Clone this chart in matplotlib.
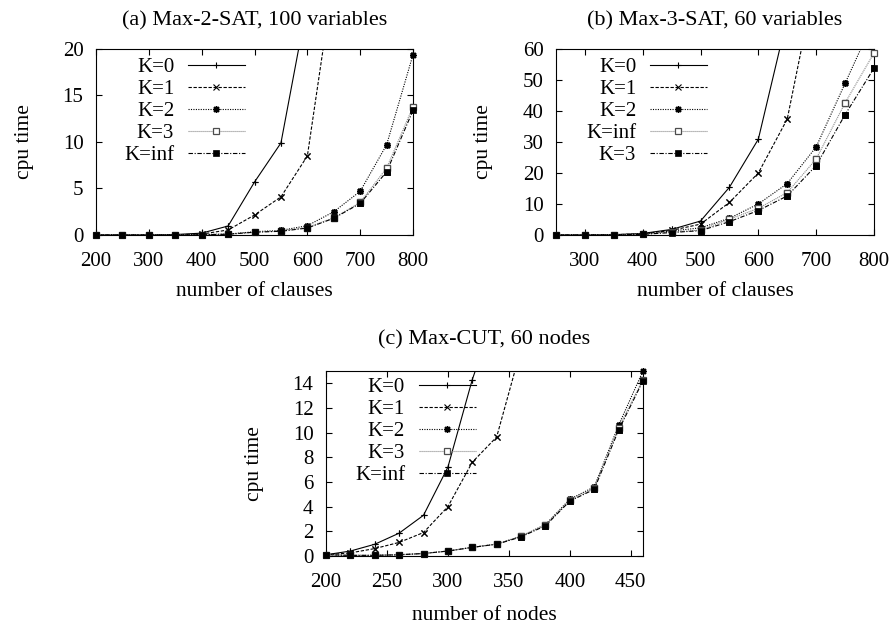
import numpy as np
import matplotlib
matplotlib.use("Agg")
import matplotlib.pyplot as plt

plt.rcParams['font.family'] = ['Liberation Serif', 'DejaVu Serif']

# (a) Max-2-SAT, 100 variables
clauses_a = [200, 250, 300, 350, 400, 450, 500, 550, 600, 650, 700, 750, 800]
a_k0 = [0.0, 0.0, 0.0, 0.05, 0.2, 0.97, 5.7, 9.9, 25.0]
a_k1 = [0.0, 0.0, 0.0, 0.03, 0.1, 0.54, 2.15, 4.1, 8.5, 27.8]
a_k2 = [0.0, 0.0, 0.0, 0.0, 0.05, 0.1, 0.35, 0.5, 1.0, 2.5, 4.7, 9.7, 19.4]
a_k3 = [0.0, 0.0, 0.0, 0.0, 0.03, 0.08, 0.3, 0.45, 0.8, 1.85, 3.5, 7.2, 13.8]
a_kinf = [0.0, 0.0, 0.0, 0.0, 0.03, 0.08, 0.3, 0.4, 0.75, 1.8, 3.4, 6.8, 13.4]

# (b) Max-3-SAT, 60 variables
clauses_b = [250, 300, 350, 400, 450, 500, 550, 600, 650, 700, 750, 800]
b_k0 = [0.0, 0.0, 0.1, 0.5, 1.8, 4.5, 15.4, 30.9, 70.2]
b_k1 = [0.0, 0.0, 0.1, 0.4, 1.5, 3.5, 10.5, 20.0, 37.4, 83.4]
b_k2 = [0.0, 0.0, 0.05, 0.3, 1.3, 2.3, 5.4, 10.0, 16.6, 28.4, 48.9, 69.4]
b_kinf = [0.0, 0.0, 0.05, 0.3, 0.9, 1.6, 5.1, 8.6, 13.7, 24.5, 42.6, 58.7]
b_k3 = [0.0, 0.0, 0.05, 0.2, 0.8, 1.4, 4.3, 7.9, 12.6, 22.4, 38.8, 53.8]

# (c) Max-CUT, 60 nodes
nodes_c = [200, 220, 240, 260, 280, 300, 320, 340, 360, 380, 400, 420, 440, 460]
c_k0 = [0.1, 0.4, 0.95, 1.85, 3.3, 7.2, 14.3, 20.0]
c_k1 = [0.1, 0.25, 0.6, 1.1, 1.9, 4.0, 7.6, 9.65, 16.8]
c_k2 = [0.1, 0.05, 0.05, 0.1, 0.2, 0.4, 0.7, 0.97, 1.6, 2.55, 4.6, 5.6, 10.6, 15.0]
c_k3 = [0.1, 0.05, 0.05, 0.1, 0.2, 0.4, 0.7, 0.97, 1.6, 2.5, 4.5, 5.5, 10.4, 14.3]
c_kinf = [0.1, 0.05, 0.05, 0.1, 0.2, 0.4, 0.7, 0.95, 1.55, 2.45, 4.45, 5.4, 10.2, 14.2]

# gnuplot-like monochrome styles
STYLES = {
    'k0': dict(color='black', ls='-', marker='+', ms=5, mew=0.8, mfc='black'),
    'k1': dict(color='black', ls=(0, (3, 1.5)), marker='x', ms=4, mew=0.8, mfc='black'),
    'k2': dict(color='black', ls=(0, (1, 1.2)), marker=(8, 2, 0), ms=5, mew=1.0, mfc='black'),
    'k3': dict(color='0.55', ls=(0, (1, 0.8)), marker='s', ms=4.5, mew=0.9, mfc='white', mec='0.3'),
    'kinf': dict(color='black', ls=(0, (4, 1.5, 1, 1.5)), marker='s', ms=4.5, mew=0.5, mfc='black'),
}


def draw_series(ax, x, y, style, label, ymax):
    x = np.array(x[:len(y)], dtype=float)
    y = np.array(y, dtype=float)
    st = dict(STYLES[style])
    ax.plot(x, y, lw=0.8, label=label, **st)
    # points are not clipped at the frame, like gnuplot does
    keep = y <= ymax
    st.pop('ls')
    ax.plot(x[keep], y[keep], ls='none', clip_on=False, zorder=3, **st)


def setup_axes(ax, title, xlabel, xlim, ylim, xticks, yticks, title_pad, xlab_y):
    ax.set_xlim(*xlim)
    ax.set_ylim(*ylim)
    ax.set_xticks(xticks)
    ax.set_yticks(yticks)
    ax.tick_params(direction='in', top=True, right=True, length=4, width=0.8,
                   labelsize=15)
    ax.tick_params(axis='x', pad=12)
    ax.tick_params(axis='y', pad=9)
    for sp in ax.spines.values():
        sp.set_linewidth(0.8)
    ax.set_title(title, fontsize=16, pad=title_pad)
    ax.set_xlabel(xlabel, fontsize=15.5)
    ax.set_ylabel('cpu time', fontsize=15.5)
    ax.xaxis.set_label_coords(0.5, xlab_y)
    ax.yaxis.set_label_coords(-0.197, 0.5)


def add_legend(ax, anchor):
    ax.legend(loc='upper right', bbox_to_anchor=anchor, frameon=False,
              markerfirst=False, numpoints=1, fontsize=15, handlelength=2.75,
              handletextpad=0.65, labelspacing=0.12, borderpad=0,
              borderaxespad=0)


fig = plt.figure(figsize=(8.95, 6.24), dpi=100)

ax_a = fig.add_axes([0.1073, 0.6234, 0.3542, 0.2981])
draw_series(ax_a, clauses_a, a_k0, 'k0', 'K=0', 20)
draw_series(ax_a, clauses_a, a_k1, 'k1', 'K=1', 20)
draw_series(ax_a, clauses_a, a_k2, 'k2', 'K=2', 20)
draw_series(ax_a, clauses_a, a_k3, 'k3', 'K=3', 20)
draw_series(ax_a, clauses_a, a_kinf, 'kinf', 'K=inf', 20)
setup_axes(ax_a, '(a) Max-2-SAT, 100 variables', 'number of clauses',
           (200, 800), (0, 20), range(200, 801, 100), range(0, 21, 5), 17, -0.255)
add_legend(ax_a, (0.470, 0.955))

ax_b = fig.add_axes([0.6212, 0.6234, 0.3553, 0.2981])
draw_series(ax_b, clauses_b, b_k0, 'k0', 'K=0', 60)
draw_series(ax_b, clauses_b, b_k1, 'k1', 'K=1', 60)
draw_series(ax_b, clauses_b, b_k2, 'k2', 'K=2', 60)
draw_series(ax_b, clauses_b, b_kinf, 'k3', 'K=inf', 60)
draw_series(ax_b, clauses_b, b_k3, 'kinf', 'K=3', 60)
setup_axes(ax_b, '(b) Max-3-SAT, 60 variables', 'number of clauses',
           (250, 800), (0, 60), range(300, 801, 100), range(0, 61, 10), 17, -0.255)
add_legend(ax_b, (0.475, 0.955))

ax_c = fig.add_axes([0.3642, 0.1090, 0.3542, 0.2965])
draw_series(ax_c, nodes_c, c_k0, 'k0', 'K=0', 15)
draw_series(ax_c, nodes_c, c_k1, 'k1', 'K=1', 15)
draw_series(ax_c, nodes_c, c_k2, 'k2', 'K=2', 15)
draw_series(ax_c, nodes_c, c_k3, 'k3', 'K=3', 15)
draw_series(ax_c, nodes_c, c_kinf, 'kinf', 'K=inf', 15)
setup_axes(ax_c, '(c) Max-CUT, 60 nodes', 'number of nodes',
           (200, 460), (0, 15), range(200, 451, 50), range(0, 15, 2), 19, -0.27)
add_legend(ax_c, (0.473, 0.965))

fig.savefig('out.png', dpi=100)
